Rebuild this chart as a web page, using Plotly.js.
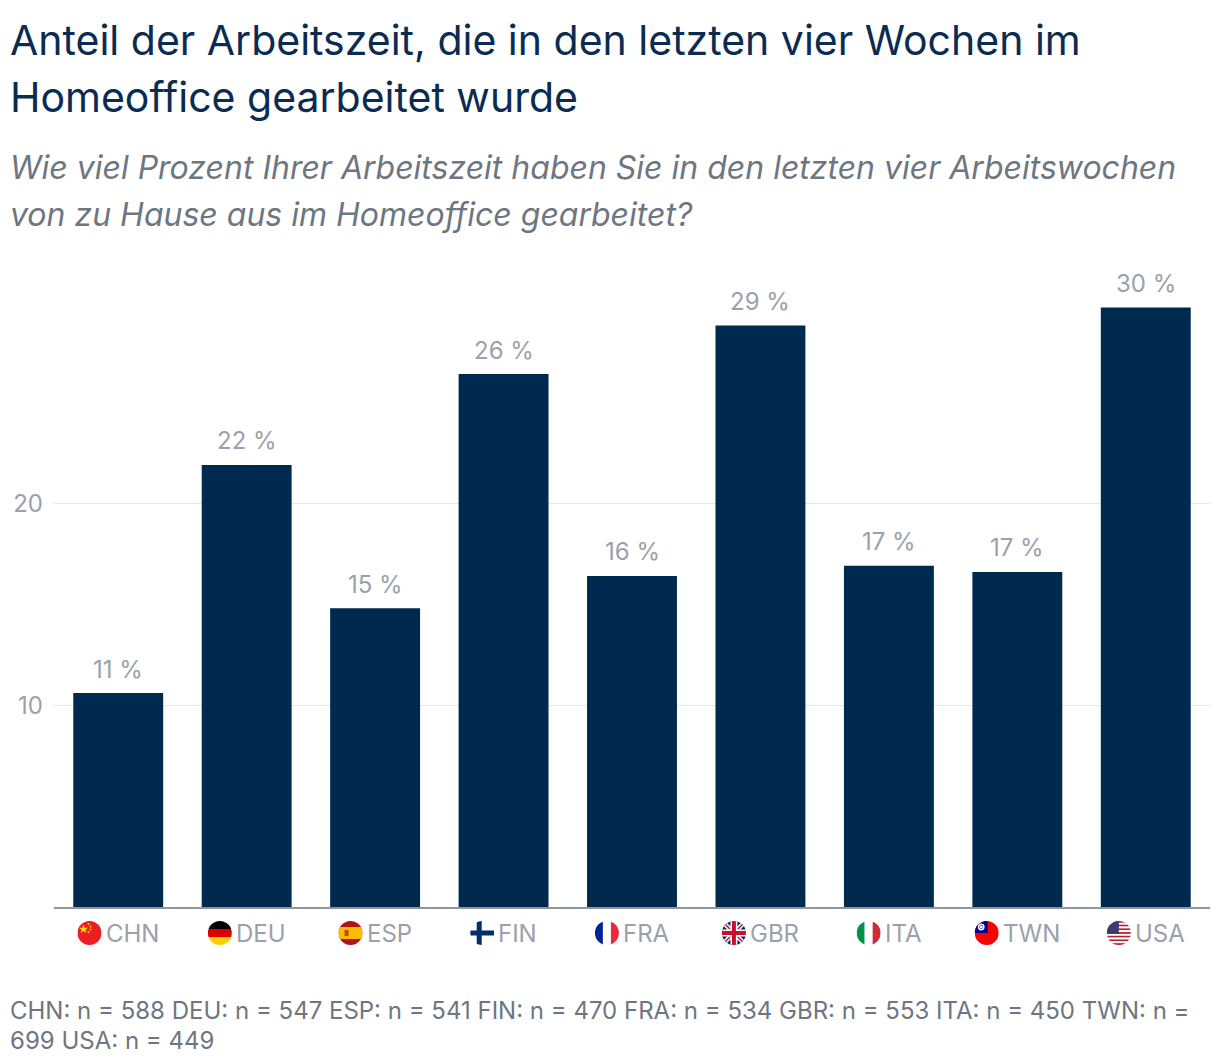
<!DOCTYPE html>
<html>
<head>
<meta charset="utf-8">
<script src="https://cdn.plot.ly/plotly-3.0.1.min.js"></script>
<style>
  body { margin: 0; background: #fff; }
  #chart { width: 1220px; height: 1064px; }
</style>
</head>
<body>
<div id="chart"></div>
<script>
// data
var countries = ['CHN', 'DEU', 'ESP', 'FIN', 'FRA', 'GBR', 'ITA', 'TWN', 'USA'];
var shares = [10.6, 21.9, 14.8, 26.4, 16.4, 28.8, 16.9, 16.6, 29.7];
var sampleSizes = [588, 547, 541, 470, 534, 553, 450, 699, 449];
var yTicks = [10, 20];

var titleLines = [
	'Anteil der Arbeitszeit, die in den letzten vier Wochen im',
	'Homeoffice gearbeitet wurde'
];
var subtitleLines = [
	'Wie viel Prozent Ihrer Arbeitszeit haben Sie in den letzten vier Arbeitswochen',
	'von zu Hause aus im Homeoffice gearbeitet?'
];

// small round flag icons, drawn inline as svg
function flagSvg(code){
	var body = '';
	if (code == 'CHN'){
		body = '<rect width="24" height="24" fill="#ee1c25"/>' +
			'<polygon points="6,3.5 7.1,6.8 10.5,6.8 7.8,8.8 8.8,12 6,10 3.2,12 4.2,8.8 1.5,6.8 4.9,6.8" fill="#ffde00"/>' +
			'<circle cx="11" cy="3" r="0.9" fill="#ffde00"/><circle cx="13" cy="5.5" r="0.9" fill="#ffde00"/>' +
			'<circle cx="13" cy="8.5" r="0.9" fill="#ffde00"/><circle cx="11" cy="11" r="0.9" fill="#ffde00"/>';
	}
	else if (code == 'DEU'){
		body = '<rect width="24" height="8" fill="#000"/><rect y="8" width="24" height="8" fill="#dd0000"/>' +
			'<rect y="16" width="24" height="8" fill="#ffce00"/>';
	}
	else if (code == 'ESP'){
		body = '<rect width="24" height="24" fill="#ad1519"/><rect y="6" width="24" height="12" fill="#fabd00"/>' +
			'<rect x="6" y="9" width="4" height="6" fill="#ad1519" opacity="0.7"/>';
	}
	else if (code == 'FIN'){
		body = '<rect width="24" height="24" fill="#fff"/><rect x="6.5" width="5" height="24" fill="#002f6c"/>' +
			'<rect y="9.5" width="24" height="5" fill="#002f6c"/>';
	}
	else if (code == 'FRA'){
		body = '<rect width="8" height="24" fill="#002395"/><rect x="8" width="8" height="24" fill="#fff"/>' +
			'<rect x="16" width="8" height="24" fill="#ed2939"/>';
	}
	else if (code == 'GBR'){
		body = '<rect width="24" height="24" fill="#012169"/>' +
			'<path d="M0,0 L24,24 M24,0 L0,24" stroke="#fff" stroke-width="4.5"/>' +
			'<path d="M0,0 L24,24 M24,0 L0,24" stroke="#c8102e" stroke-width="1.5"/>' +
			'<path d="M12,0 V24 M0,12 H24" stroke="#fff" stroke-width="7"/>' +
			'<path d="M12,0 V24 M0,12 H24" stroke="#c8102e" stroke-width="4"/>';
	}
	else if (code == 'ITA'){
		body = '<rect width="8" height="24" fill="#009246"/><rect x="8" width="8" height="24" fill="#fff"/>' +
			'<rect x="16" width="8" height="24" fill="#ce2b37"/>';
	}
	else if (code == 'TWN'){
		body = '<rect width="24" height="24" fill="#fe0000"/><rect width="13" height="12" fill="#000095"/>' +
			'<circle cx="6.5" cy="6" r="3.4" fill="#fff"/><circle cx="6.5" cy="6" r="2" fill="#000095"/>' +
			'<circle cx="6.5" cy="6" r="1.6" fill="#fff"/>';
	}
	else {
		var stripes = '';
		for (var s = 0; s < 13; s++){
			stripes += '<rect y="' + (s * 24 / 13) + '" width="24" height="' + (24 / 13) + '" fill="' + (s % 2 == 0 ? '#b22234' : '#fff') + '"/>';
		}
		body = stripes + '<rect width="12" height="13" fill="#3c3b6e"/>';
	}
	var svg = '<svg xmlns="http://www.w3.org/2000/svg" width="24" height="24" viewBox="0 0 24 24">' +
		'<defs><clipPath id="c"><circle cx="12" cy="12" r="12"/></clipPath></defs>' +
		'<g clip-path="url(#c)">' + body + '</g></svg>';
	return 'data:image/svg+xml;utf8,' + encodeURIComponent(svg);
}

//geometry of the plot area, in pixels
var W = 1220, H = 1064;
var margin = {l: 54, r: 10, t: 261, b: 157};
var plotW = W - margin.l - margin.r;
var plotH = H - margin.t - margin.b;
var catW = plotW / countries.length;
var yMax = 32;
function paperY(px){ return (H - margin.b - px) / plotH; }
function paperX(px){ return (px - margin.l) / plotW; }

var fontName = 'Inter, "Open Sans", sans-serif';
var gray = '#9aa1aa';
var darkGray = '#6e7681';
var navy = '#00294f';

//measure tick text so flag + label sit centred under each bar
var canvas = document.createElement('canvas');
var ctx = canvas.getContext('2d');
ctx.font = '24px Inter';

var annotations = [];
var images = [];

for (var i = 0; i < countries.length; i++){
	// value label above the bar
	annotations.push({
		x: countries[i], y: shares[i], xref: 'x', yref: 'y',
		text: Math.round(shares[i]) + ' %',
		showarrow: false, yanchor: 'middle', yshift: 24,
		font: {family: fontName, size: 24, color: gray}
	});
	// category label with flag
	var w = ctx.measureText(countries[i]).width;
	annotations.push({
		x: i, y: paperY(933), xref: 'x', yref: 'paper',
		text: countries[i], showarrow: false,
		xanchor: 'center', yanchor: 'middle', xshift: 14,
		font: {family: fontName, size: 24, color: gray}
	});
	images.push({
		source: flagSvg(countries[i]),
		xref: 'x', yref: 'paper',
		x: i + (-w / 2 - 2) / catW, y: paperY(933),
		sizex: 24 / catW, sizey: 24 / plotH,
		xanchor: 'center', yanchor: 'middle',
		sizing: 'contain', layer: 'above'
	});
}

function addText(text, px, py, size, color, italic){
	annotations.push({
		x: paperX(px), y: paperY(py), xref: 'paper', yref: 'paper',
		text: text, showarrow: false, xanchor: 'left', yanchor: 'middle',
		align: 'left',
		font: {family: fontName, size: size, color: color, style: italic ? 'italic' : 'normal'}
	});
}

addText(titleLines[0], 8, 40, 41, '#0b2b52', false);
addText(titleLines[1], 8, 97, 41, '#0b2b52', false);
addText(subtitleLines[0], 8, 167, 32, darkGray, true);
addText(subtitleLines[1], 8, 214, 32, darkGray, true);

//footer with the sample sizes, broken where the reference wraps
var notes = [];
for (var j = 0; j < countries.length; j++){
	notes.push(countries[j] + ': n = ' + sampleSizes[j]);
}
var footer = notes.join(' ');
var cut = footer.indexOf('699');
addText(footer.slice(0, cut).trim(), 8, 1010, 24, darkGray, false);
addText(footer.slice(cut), 8, 1040, 24, darkGray, false);

var trace = {
	x: countries,
	y: shares,
	type: 'bar',
	marker: {color: navy},
	hoverinfo: 'none'
};

var layout = {
	width: W, height: H,
	margin: margin,
	paper_bgcolor: '#fff',
	plot_bgcolor: '#fff',
	bargap: 0.3,
	showlegend: false,
	xaxis: {
		showticklabels: false, showgrid: false, zeroline: false,
		showline: true, linecolor: '#8e959e', linewidth: 2, ticks: ''
	},
	yaxis: {
		range: [0, yMax], tickvals: yTicks, ticktext: yTicks.map(String),
		showgrid: true, gridcolor: '#e6e6e6', gridwidth: 1,
		zeroline: false, showline: false, ticks: '',
		ticklabelstandoff: 10,
		tickfont: {family: fontName, size: 24, color: gray}
	},
	annotations: annotations,
	images: images
};

Plotly.newPlot('chart', [trace], layout, {staticPlot: true});
</script>
</body>
</html>
